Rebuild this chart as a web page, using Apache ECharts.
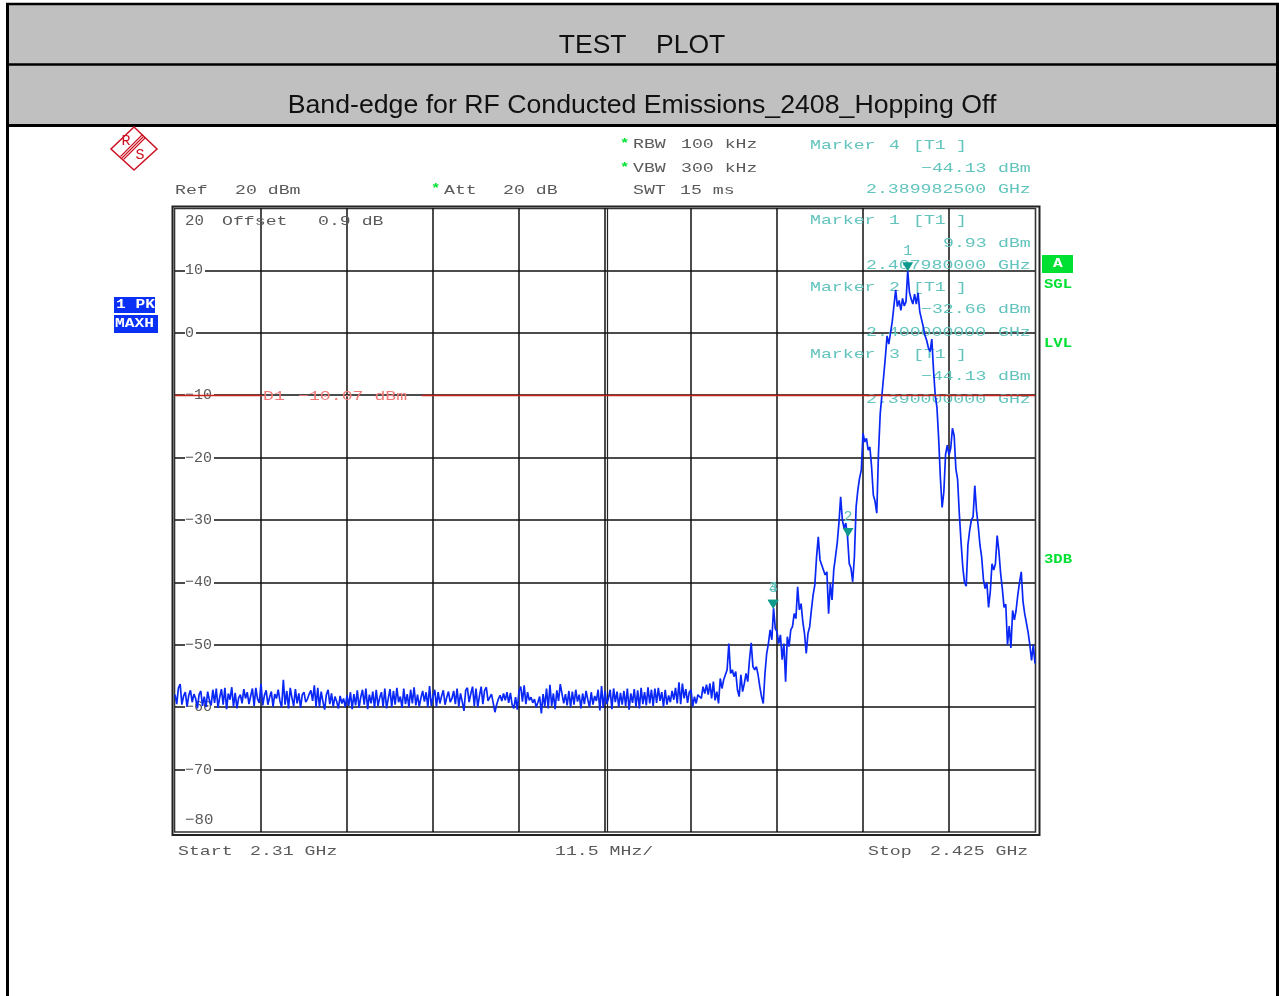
<!DOCTYPE html>
<html>
<head>
<meta charset="utf-8">
<style>html,body{margin:0;padding:0;background:#fff}#c{width:1279px;height:996px}</style>
<script src="https://cdn.jsdelivr.net/npm/echarts@6/dist/echarts.min.js"></script>
</head>
<body>
<div id="c"></div>
<script>
// Sweep settings
const startMHz = 2310, stopMHz = 2425, sweepPoints = 501;
// Trace levels in dBm, one per sweep point
const floorLevels = [
-58.0,-59.5,-56.9,-56.3,-59.6,-58.2,-57.6,-59.9,-58.1,-57.3,-59.2,-57.9,-58.6,-60.2,-58.0,-57.4,-59.8,-58.3,-60.0,-57.5,
-58.9,-59.7,-57.2,-59.3,-57.0,-60.1,-58.4,-57.1,-59.6,-56.9,-60.3,-57.8,-58.8,-56.8,-59.9,-57.7,-60.2,-58.5,-58.0,-59.4,
-57.1,-58.6,-57.6,-59.5,-58.2,-57.0,-59.8,-56.9,-58.7,-59.3,-56.2,-59.7,-58.1,-57.3,-59.6,-58.4,-57.5,-59.9,-57.9,-58.6,
-57.2,-59.0,-60.0,-55.6,-59.6,-57.4,-60.2,-56.9,-58.5,-59.8,-57.1,-59.4,-57.8,-60.1,-58.0,-57.6,-59.2,-58.7,-57.9,-57.3,
-59.0,-56.5,-59.9,-56.9,-60.0,-57.5,-59.1,-60.4,-58.0,-57.2,-59.5,-57.8,-59.9,-58.3,-59.1,-60.2,-58.2,-59.4,-58.6,-60.0,
-58.1,-59.8,-57.6,-60.3,-57.9,-59.7,-57.3,-60.1,-58.4,-57.2,-59.6,-57.0,-60.3,-58.0,-59.4,-57.5,-60.1,-57.2,-59.8,-58.5,
-57.6,-59.9,-57.0,-60.2,-58.6,-57.1,-60.0,-57.4,-59.6,-56.9,-59.2,-58.3,-60.1,-57.0,-59.5,-57.9,-60.0,-57.2,-59.4,-56.8,
-59.7,-58.0,-59.9,-58.5,-57.4,-59.1,-57.6,-60.0,-56.6,-59.8,-58.3,-57.2,-59.9,-57.6,-59.4,-58.2,-57.3,-59.6,-58.4,-57.5,
-59.2,-58.6,-57.4,-59.5,-57.0,-59.9,-57.8,-59.1,-60.6,-57.3,-56.9,-59.2,-57.8,-56.7,-59.8,-57.0,-60.0,-58.2,-56.7,-59.5,
-57.3,-56.8,-59.0,-58.7,-57.9,-59.3,-60.8,-59.6,-58.7,-58.1,-59.0,-57.8,-58.9,-57.6,-59.3,-57.7,-59.6,-60.2,-58.4,-60.4,
-57.4,-56.7,-59.1,-56.5,-59.5,-57.6,-58.9,-58.4,-59.3,-58.7,-60.0,-59.2,-58.3,-61.0,-57.9,-59.9,-57.0,-60.2,-56.4,-59.8,
-57.8,-60.3,-57.3,-59.0,-56.3,-56.4,-59.4,-57.9,-59.7,-57.4,-60.0,-57.5,-59.6,-57.2,-59.1,-58.0,-60.2,-57.8,-59.5,-57.4,
-58.8,-60.0,-57.6,-59.6,-58.2,-59.0,-57.2,-60.5,-56.6,-60.1,-57.4,-59.5,-58.6,-57.2,-60.3,-57.0,-59.2,-57.5,-60.0,-57.7,
-59.6,-57.4,-59.8,-57.0,-60.4,-57.8,-59.3,-57.1,-59.9,-57.3,-60.2,-56.9,-59.5,-57.6,-59.7,-56.8,-59.4,-57.2,-59.8,-57.0,
-59.3,-56.9,-59.0,-57.6,-59.9,-57.2,-59.6,-58.1,-59.2,-57.4,-58.8,-56.9,-59.4,-56.0,-59.5,-56.2,-58.6,-57.1,-59.3,-57.6
];
const skirtLevels = [
-57.2,-59.9,-58.3,-59.4,-58.0,-57.8,-58.6,-56.7,-57.8,-56.4,-58.0,-56.2,-58.6,-55.9,-58.9,-57.5,-59.4,-55.4,-57.0,-55.6,
-55.6,-54.0,-49.8,-54.6,-54.0,-55.1,-54.3,-57.2,-58.3,-54.8,-57.5,-56.2,-54.6,-55.9,-52.4,-49.7,-53.5,-54.0,-53.5,-54.8,
-56.7,-58.3,-59.4,-54.6,-51.4,-49.8,-47.6,-49.2,-44.13,-47.4,-47.9,-49.8,-48.4,-52.4,-49.8,-55.9,-48.7,-50.3,-47.6,-47.1,
-45.0,-45.8,-40.7,-44.4,-43.4,-46.3,-48.2,-51.4,-48.2,-47.1,-44.4,-42.0,-40.4,-35.9,-32.7,-36.4,-37.2,-37.0,-38.8,-38.3,
-45.0,-40.2,-42.8,-38.0,-35.9,-33.7,-30.5,-26.3,-30.0,-31.3,-30.5,-32.66,-37.0,-37.7,-39.9,-35.9,-27.9,-25.2,-23.3,-22.0,
-16.1,-17.5,-16.9,-18.8,-18.3,-21.5,-26.0,-27.0,-28.9,-19.3,-13.0,-12.8,-7.0,-3.9,-0.5,-1.8,-1.5,1.8,2.1,6.9,
4.2,5.2,3.6,5.5,4.3,5.0,9.93,6.5,5.4,4.6,6.2,4.6,6.4,3.4,2.2,1.0,-0.4,-1.2,-2.4,-3.0,
-1.0,-6.0,-10.0,-12.0,-17.0,-23.3,-28.0,-25.5,-19.5,-18.0,-19.6,-18.5,-15.3,-16.5,-21.8,-23.5,-29.0,-33.5,-37.5,-40.0,
-40.6,-34.0,-31.7,-30.0,-29.5,-24.5,-28.5,-31.0,-34.0,-36.0,-39.5,-41.0,-40.0,-44.0,-41.5,-37.0,-38.0,-37.0,-32.5,-35.0,
-38.5,-41.0,-44.0,-43.5,-50.0,-47.0,-50.5,-44.5,-46.0,-44.5,-42.0,-40.0,-38.3,-43.0,-45.0,-46.5,-48.0,-50.0,-52.5,-50.0,
-53.0
];
const tickLabels = {"10":"10","0":"0","-10":"\u221210","-20":"\u221220","-30":"\u221230","-40":"\u221240","-50":"\u221250","-60":"\u221260","-70":"\u221270"};
const markerNames = ['1','2','3','4'];
const markerFreq = [2407.98, 2400, 2390, 2389.9825];
const markerLevel = [9.93, -32.66, -44.13, -44.13];
const displayLineLevel = -10.07;
const displayLineSpans = [[2310, 2321.7], [2343, 2425]];

const levels = floorLevels.concat(skirtLevels);
const step = (stopMHz - startMHz) / (sweepPoints - 1);
const trace = levels.map((v, i) => [startMHz + i * step, v]);

const GREY = '#5a5a5a', TEAL = '#62c4bd', GREEN = '#00e032';
const MONO = '"Liberation Mono"';
function t(text, x, y, color, opt) {
  opt = opt || {};
  return { type: 'text', x: x, y: y + 2, z: opt.z || 1, scaleX: opt.sx || 1.4, silent: true,
    style: { text: text, fill: color, font: (opt.weight || 'normal') + ' ' + (opt.size || 13) + 'px ' + MONO,
      textAlign: opt.align || 'left', textVerticalAlign: 'middle', textBaseline: 'middle' } };
}
function box(x, y, w, h, fill, stroke, lw) {
  return { type: 'rect', z: 0, silent: true, shape: { x: x, y: y, width: w, height: h },
    style: { fill: fill || 'none', stroke: stroke || 'none', lineWidth: lw || 0 } };
}
function ln(x1, y1, x2, y2, color, lw) {
  return { type: 'line', z: 1, silent: true, shape: { x1, y1, x2, y2 }, style: { stroke: color, lineWidth: lw } };
}
function readout(name, mark, value, valueX, freq, y1, y2, y3) {
  return [
    t(name, 810, y1, TEAL), t(mark, 889, y1, TEAL), t('[T1', 913, y1, TEAL), t(']', 956, y1, TEAL),
    t(value, valueX, y2, TEAL), t('dBm', 998, y2, TEAL),
    t(freq, 866, y3, TEAL), t('GHz', 998, y3, TEAL)
  ];
}
const graphics = [
  box(8, 5, 1269, 59, '#c0c0c0'),
  box(8, 65, 1269, 59, '#c0c0c0'),
  ln(6, 4, 1279, 4, '#000', 2.5),
  ln(7.5, 3, 7.5, 996, '#000', 3),
  ln(1277.5, 3, 1277.5, 996, '#000', 3),
  ln(7, 64.5, 1279, 64.5, '#000', 2.5),
  ln(7, 125.5, 1279, 125.5, '#000', 3),
  // instrument frame
  box(172.5, 206.5, 867, 628.5, 'none', '#222', 2),
  box(174.5, 208.5, 861, 623.5, 'none', '#333', 1.6),
  ln(607.5, 208, 607.5, 832, '#222', 1.2),
  // logo
  { type: 'polygon', z: 1, silent: true, shape: { points: [[134, 127], [157, 149], [134, 170], [111, 149]] },
    style: { fill: 'none', stroke: '#cc1122', lineWidth: 1.5 } },
  ln(144, 136, 122, 158, '#cc1122', 1.1), ln(145.5, 137.5, 123.5, 159.5, '#cc1122', 1.1), ln(142.5, 134.5, 120.5, 156.5, '#cc1122', 1.1),
  t('R', 126, 139, '#cc1122', { sx: 1, size: 15, align: 'center' }),
  t('S', 140, 153, '#cc1122', { sx: 1, size: 15, align: 'center' }),
  // settings
  t('Ref', 175, 189, GREY), t('20 dBm', 235, 189, GREY),
  t('*', 431, 187, GREEN, { weight: 'bold', sx: 1.2 }),
  t('Att', 444, 189, GREY), t('20 dB', 503, 189, GREY),
  t('*', 620, 142, GREEN, { weight: 'bold', sx: 1.2 }),
  t('RBW', 633, 143, GREY), t('100 kHz', 681, 143, GREY),
  t('*', 620, 166, GREEN, { weight: 'bold', sx: 1.2 }),
  t('VBW', 633, 167, GREY), t('300 kHz', 681, 167, GREY),
  t('SWT', 633, 189, GREY), t('15 ms', 680, 189, GREY),
  t('Offset', 222, 220, GREY), t('0.9 dB', 318, 220, GREY),
  t('20', 185, 219, GREY, { sx: 1.05, size: 15 }),
  t('\u221280', 185, 818, GREY, { sx: 1.05, size: 15 }),
  t('Start', 178, 850, GREY), t('2.31 GHz', 250, 850, GREY),
  t('11.5 MHz/', 555, 850, GREY),
  t('Stop', 868, 850, GREY), t('2.425 GHz', 930, 850, GREY),
  // marker readouts
  ...readout('Marker', '4', '\u221244.13', 921, '2.389982500', 144, 167, 188),
  ...readout('Marker', '1', '9.93', 943, '2.407980000', 219, 242, 264),
  ...readout('Marker', '2', '\u221232.66', 921, '2.400000000', 286, 308, 331),
  ...readout('Marker', '3', '\u221244.13', 921, '2.390000000', 353, 375, 398),
  t('D1', 263, 395, '#f07a78'), t('\u221210.07 dBm', 298, 395, '#f07a78'),
  // side annotations
  box(114, 297, 41, 16, '#0a30f5'),
  t('1 PK', 116, 303, '#fff', { weight: 'bold', size: 12, sx: 1.35 }),
  box(114, 315, 44, 18, '#0a30f5'),
  t('MAXH', 115, 322, '#fff', { weight: 'bold', size: 12, sx: 1.35 }),
  box(1042, 255, 31, 18, GREEN),
  t('A', 1053, 262, '#fff', { weight: 'bold', size: 12, sx: 1.35 }),
  t('SGL', 1044, 283, GREEN, { weight: 'bold', size: 12, sx: 1.3 }),
  t('LVL', 1044, 342, GREEN, { weight: 'bold', size: 12, sx: 1.3 }),
  t('3DB', 1044, 558, GREEN, { weight: 'bold', size: 12, sx: 1.3 })
];

const chart = echarts.init(document.getElementById('c'), null, { renderer: 'canvas' });
chart.setOption({
  animation: false,
  backgroundColor: '#ffffff',
  title: [
    { text: 'TEST    PLOT', left: 642, top: 32, padding: 0, textAlign: 'center',
      textStyle: { fontFamily: '"Liberation Sans"', fontSize: 26.5, fontWeight: 'normal', color: '#111' } },
    { text: 'Band-edge for RF Conducted Emissions_2408_Hopping Off', left: 642, top: 92, padding: 0, textAlign: 'center',
      textStyle: { fontFamily: '"Liberation Sans"', fontSize: 26.7, fontWeight: 'normal', color: '#111' } }
  ],
  graphic: graphics,
  grid: { left: 175, top: 208, width: 860, height: 624, containLabel: false },
  xAxis: {
    type: 'value', min: startMHz, max: stopMHz, interval: (stopMHz - startMHz) / 10,
    axisLine: { show: false }, axisTick: { show: false }, axisLabel: { show: false },
    splitLine: { show: true, showMinLine: false, showMaxLine: false, lineStyle: { color: '#111', width: 1.5 } }
  },
  yAxis: {
    type: 'value', min: -80, max: 20, interval: 10,
    axisLine: { show: false }, axisTick: { show: false },
    axisLabel: {
      show: true, inside: true, margin: 10, color: GREY, fontFamily: MONO, fontSize: 15,
      showMinLabel: false, showMaxLabel: false,
      backgroundColor: '#fff', padding: [0, 2, 0, 0],
      formatter: v => tickLabels[String(v)] || ''
    },
    splitLine: { show: true, showMinLine: false, showMaxLine: false, lineStyle: { color: '#111', width: 1.5 } }
  },
  series: [
    { type: 'line', name: 'Trace 1', data: trace, showSymbol: false, symbol: 'none', z: 3, clip: true,
      lineStyle: { color: '#0a28f5', width: 1.7 }, silent: true,
      markPoint: {
        silent: true, symbol: 'triangle', symbolRotate: 180, symbolSize: [11, 9], symbolOffset: [0, -4],
        itemStyle: { color: '#0f9a8e' },
        label: { show: true, position: 'top', distance: 4, color: TEAL, fontFamily: MONO, fontSize: 15,
          formatter: p => p.name },
        data: markerNames.map((n, i) => ({ name: n, coord: [markerFreq[i], markerLevel[i]] }))
      }
    },
    { type: 'line', name: 'D1', data: [], silent: true, z: 2,
      markLine: {
        silent: true, symbol: 'none', label: { show: false },
        lineStyle: { color: '#c8241f', width: 1.4, type: 'solid' },
        data: displayLineSpans.map(s => [{ coord: [s[0], displayLineLevel] }, { coord: [s[1], displayLineLevel] }])
      }
    }
  ]
});
</script>
</body>
</html>
